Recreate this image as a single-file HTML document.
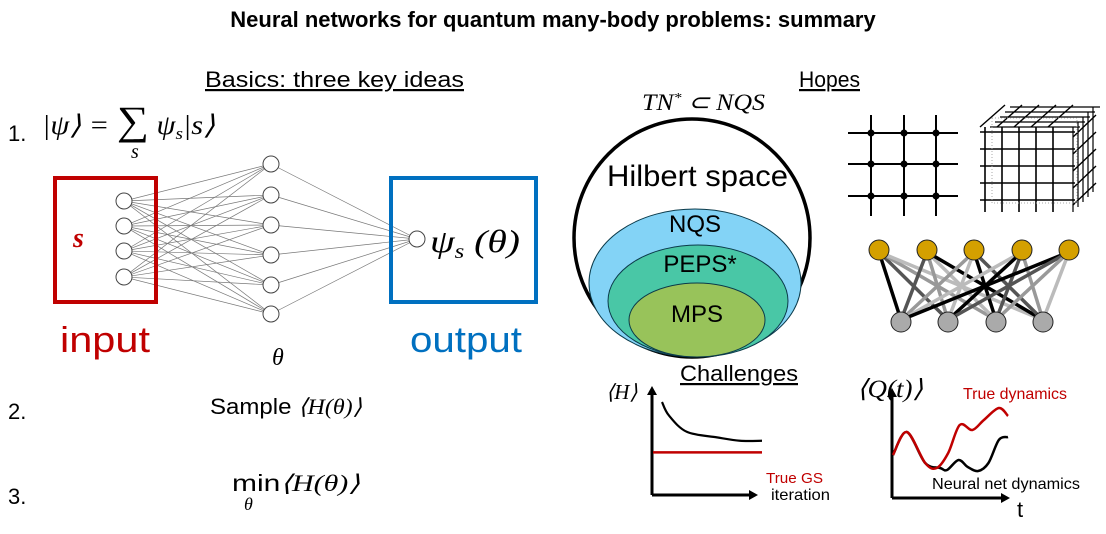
<!DOCTYPE html>
<html><head><meta charset="utf-8"><style>
body{margin:0;background:#fff;}
svg{display:block;font-family:"Liberation Sans",sans-serif;}
.m{font-family:"Liberation Serif",serif;font-style:italic;}
</style></head><body>
<svg id="s" width="1106" height="534" viewBox="0 0 1106 534">
<text x="553" y="27" text-anchor="middle" font-size="22" font-weight="bold">Neural networks for quantum many-body problems: summary</text>
<text x="205" y="87" font-size="22" textLength="259" lengthAdjust="spacingAndGlyphs" text-decoration="underline">Basics: three key ideas</text>
<text x="8" y="141" font-size="22">1.</text>
<text x="42" y="134" font-size="27" class="m" textLength="173" lengthAdjust="spacingAndGlyphs">|ψ⟩ = <tspan font-style="normal" font-size="40">∑</tspan> ψ<tspan font-size="17" dy="5">s</tspan><tspan dy="-5">|s⟩</tspan></text>
<text x="131" y="158" font-size="20" class="m">s</text>
<g id="nn"></g>
<rect x="55" y="178" width="101" height="124" fill="none" stroke="#c00000" stroke-width="4"/>
<text x="73" y="247" font-size="28" fill="#c00000" font-weight="bold" class="m">s</text>
<rect x="391" y="178" width="145" height="124" fill="none" stroke="#0070c0" stroke-width="4"/>
<text x="430" y="252" font-size="32" class="m" textLength="90" lengthAdjust="spacingAndGlyphs">ψ<tspan font-size="20" dy="6">s</tspan><tspan dy="-6"> (θ)</tspan></text>
<text x="60" y="352" font-size="36" fill="#c00000" textLength="90" lengthAdjust="spacingAndGlyphs">input</text>
<text x="410" y="352" font-size="36" fill="#0070c0" textLength="112" lengthAdjust="spacingAndGlyphs">output</text>
<text x="272" y="365" font-size="24" class="m">θ</text>
<text x="8" y="419" font-size="22">2.</text>
<text x="210" y="414" font-size="22" textLength="152" lengthAdjust="spacingAndGlyphs">Sample <tspan class="m">⟨H(θ)⟩</tspan></text>
<text x="8" y="504" font-size="22">3.</text>
<text x="232" y="491" font-size="23" textLength="128" lengthAdjust="spacingAndGlyphs">min<tspan class="m">⟨H(θ)⟩</tspan></text>
<text x="244" y="510" font-size="18" class="m">θ</text>

<text x="799" y="87" font-size="22" textLength="61" lengthAdjust="spacingAndGlyphs" text-decoration="underline">Hopes</text>
<text x="642" y="110" font-size="23" class="m" textLength="123" lengthAdjust="spacingAndGlyphs">TN<tspan font-size="14" dy="-8">*</tspan><tspan dy="8"> ⊂ NQS</tspan></text>
<ellipse cx="692" cy="238" rx="118" ry="119" fill="#fff" stroke="#000" stroke-width="3.5"/>
<ellipse cx="695" cy="283" rx="106" ry="74" fill="#83d3f6" stroke="#0b3a4a" stroke-width="1"/>
<ellipse cx="698" cy="301" rx="90" ry="56" fill="#49c7a6" stroke="#0b3a4a" stroke-width="1"/>
<ellipse cx="697" cy="320" rx="68" ry="37" fill="#98c35a" stroke="#0b3a4a" stroke-width="1"/>
<text x="607" y="186" font-size="30" textLength="181" lengthAdjust="spacingAndGlyphs">Hilbert space</text>
<text x="695" y="232" text-anchor="middle" font-size="24">NQS</text>
<text x="700" y="272" text-anchor="middle" font-size="24">PEPS*</text>
<text x="697" y="322" text-anchor="middle" font-size="24">MPS</text>
<g id="lat"></g>
<g id="cube"></g>
<g id="rbm"></g>

<text x="680" y="381" font-size="22" textLength="118" lengthAdjust="spacingAndGlyphs" text-decoration="underline">Challenges</text>
<text x="606" y="399" font-size="21" class="m">⟨H⟩</text>
<g id="c1"></g>
<text x="766" y="483" font-size="15" fill="#c00000" textLength="57" lengthAdjust="spacingAndGlyphs">True GS</text>
<text x="771" y="500" font-size="16" textLength="59" lengthAdjust="spacingAndGlyphs">iteration</text>
<text x="857" y="397" font-size="25" class="m" textLength="66" lengthAdjust="spacingAndGlyphs">⟨Q(t)⟩</text>
<g id="c2"></g>
<text x="963" y="399" font-size="16" fill="#c00000" textLength="104" lengthAdjust="spacingAndGlyphs">True dynamics</text>
<text x="932" y="489" font-size="16" textLength="148" lengthAdjust="spacingAndGlyphs">Neural net dynamics</text>
<text x="1017" y="517" font-size="22">t</text>
</svg>
<script>
const NS='http://www.w3.org/2000/svg';
function mk(p,t,a){const e=document.createElementNS(NS,t);for(const k in a)e.setAttribute(k,a[k]);p.appendChild(e);return e;}
const inY=[201,226,251,277],hidY=[164,195,225,255,285,314];
const nn=document.getElementById('nn');
inY.forEach(a=>hidY.forEach(b=>{const l=mk(nn,'line',{x1:124,y1:a,x2:271,y2:b,stroke:'#777','stroke-width':0.7});}));
hidY.forEach(b=>{const l=mk(nn,'line',{x1:271,y1:b,x2:417,y2:239,stroke:'#777','stroke-width':0.7});});
inY.forEach(y=>{const c=mk(nn,'circle',{cx:124,cy:y,r:8,fill:'#fff',stroke:'#444'});});
hidY.forEach(y=>{const c=mk(nn,'circle',{cx:271,cy:y,r:8,fill:'#fff',stroke:'#444'});});
{const c=mk(nn,'circle',{cx:417,cy:239,r:8,fill:'#fff',stroke:'#444'});}
const lat=document.getElementById('lat');const lx=[871,904,936],ly=[133,164,196];
ly.forEach(y=>mk(lat,'line',{x1:848,y1:y,x2:958,y2:y,stroke:'#000','stroke-width':2}));
lx.forEach(x=>mk(lat,'line',{x1:x,y1:115,x2:x,y2:216,stroke:'#000','stroke-width':2}));
lx.forEach(x=>ly.forEach(y=>{const c=mk(lat,'circle',{cx:x,cy:y,r:3.5,fill:'#000'});}));
const cb=document.getElementById('cube');
for(let i=0;i<5;i++){const x=985+i*17,y=132+i*17;
 mk(cb,'line',{x1:980,y1:y,x2:1075,y2:y,stroke:'#000','stroke-width':1.6});
 mk(cb,'line',{x1:x,y1:127,x2:x,y2:212,stroke:'#000','stroke-width':1.6});
 mk(cb,'line',{x1:x-5,y1:127,x2:x+20,y2:105,stroke:'#000','stroke-width':1.4});
 mk(cb,'line',{x1:1073,y1:y+5,x2:1096,y2:y-17,stroke:'#000','stroke-width':1.4});
 mk(cb,'line',{x1:990+i*5,y1:127-i*5,x2:1080+i*5,y2:127-i*5,stroke:'#000','stroke-width':1.2});
 mk(cb,'line',{x1:1073+i*5,y1:127-i*5,x2:1073+i*5,y2:212-i*5,stroke:'#000','stroke-width':1.2});}
mk(cb,'rect',{x:992,y:118,width:85,height:85,fill:'none',stroke:'#aaa','stroke-dasharray':'1 2'});
const rb=document.getElementById('rbm');const tx=[879,927,974,1022,1069],bx=[901,948,996,1043];
const shades=['#000','#555','#999','#bbb'];
tx.forEach((a,i)=>bx.forEach((b,j)=>{const l=mk(rb,'line',{x1:a,y1:252,x2:b,y2:320,stroke:shades[(i+j)%4],'stroke-width':3.5});}));
tx.forEach(x=>{const c=mk(rb,'circle',{cx:x,cy:250,r:10,fill:'#d4a000',stroke:'#222'});});
bx.forEach(x=>{const c=mk(rb,'circle',{cx:x,cy:322,r:10,fill:'#aaa',stroke:'#222'});});
function arrows(g,ox,oy,top,right){
 mk(g,'line',{x1:ox,y1:oy,x2:ox,y2:top+8,stroke:'#000','stroke-width':3});
 mk(g,'polygon',{points:`${ox-5},${top+9} ${ox+5},${top+9} ${ox},${top}`,fill:'#000'});
 mk(g,'line',{x1:ox,y1:oy,x2:right-8,y2:oy,stroke:'#000','stroke-width':3});
 mk(g,'polygon',{points:`${right-9},${oy-5} ${right-9},${oy+5} ${right},${oy}`,fill:'#000'});}
function smooth(xs,ys,fx,fy){
 const P=xs.map((v,i)=>[fx(v),fy(ys[i])]);let d='M'+P[0][0]+','+P[0][1];
 for(let i=0;i<P.length-1;i++){const p0=P[Math.max(0,i-1)],p1=P[i],p2=P[i+1],p3=P[Math.min(P.length-1,i+2)];
  const c1x=p1[0]+(p2[0]-p0[0])/6,c1y=p1[1]+(p2[1]-p0[1])/6,c2x=p2[0]-(p3[0]-p1[0])/6,c2y=p2[1]-(p3[1]-p1[1])/6;
  d+=` C${c1x},${c1y} ${c2x},${c2y} ${p2[0]},${p2[1]}`;}
 return d;}
const iterX=[0,0.07,0.25,0.55,0.78,1.0];
const energyVals=[1.0,0.8,0.56,0.48,0.43,0.43];
const gsVal=0.26;
const c1=document.getElementById('c1');
arrows(c1,652,495,386,758);
const ex=v=>662+v*100, ey=v=>470-v*68;
{const p=mk(c1,'path',{d:smooth(iterX,energyVals,ex,ey),fill:'none',stroke:'#000','stroke-width':2.2});}
{const l=mk(c1,'line',{x1:653,y1:ey(gsVal),x2:762,y2:ey(gsVal),stroke:'#c00000','stroke-width':2.5});}
const tTrue=[0,0.12,0.28,0.38,0.48,0.58,0.69,0.79,0.92,1.0];
const qTrue=[0.45,0.68,0.37,0.32,0.47,0.75,0.70,0.80,0.92,0.84];
const tNN=[0,0.12,0.28,0.41,0.47,0.57,0.65,0.74,0.83,0.92,1.0];
const qNN=[0.45,0.68,0.37,0.32,0.30,0.40,0.33,0.29,0.37,0.60,0.63];
const c2=document.getElementById('c2');
arrows(c2,892,498,388,1010);
const tx2=v=>893+v*115, qy=v=>500-v*100;
{const p=mk(c2,'path',{d:smooth(tNN,qNN,tx2,qy),fill:'none',stroke:'#000','stroke-width':2.5});}
{const p=mk(c2,'path',{d:smooth(tTrue,qTrue,tx2,qy),fill:'none',stroke:'#c00000','stroke-width':2.5});}
</script>
</body></html>
